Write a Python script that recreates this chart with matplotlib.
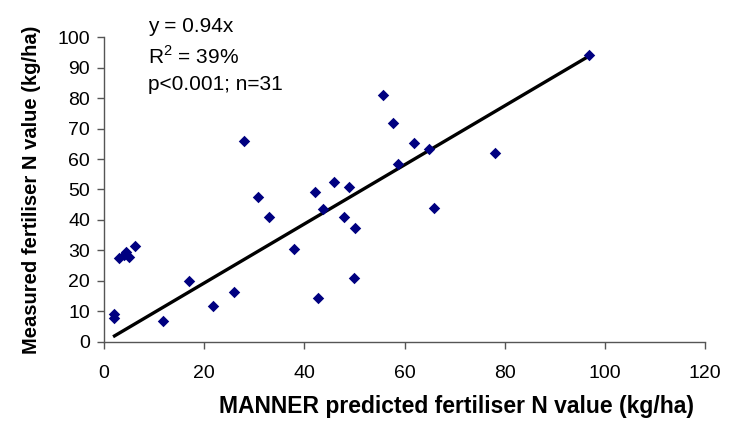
import numpy as np
import matplotlib.pyplot as plt

plt.rcParams['font.family'] = ['Liberation Sans', 'DejaVu Sans']
plt.rcParams['mathtext.fontset'] = 'custom'
plt.rcParams['mathtext.rm'] = 'Liberation Sans'

# predicted (x) vs measured (y) fertiliser N value, kg/ha
predicted = [2.0, 2.0, 3.0, 4.0, 4.3, 5.0, 6.2, 11.8, 17.0, 21.8,
             26.0, 28.0, 30.7, 32.9, 37.9, 42.1, 42.8, 43.7, 45.9, 47.9,
             48.9, 50.1, 49.9, 55.7, 57.8, 58.7, 61.8, 64.9, 65.9, 78.0,
             96.8]
measured = [9.2, 7.8, 27.4, 28.5, 29.4, 27.8, 31.5, 6.7, 19.8, 11.8,
            16.4, 65.9, 47.6, 40.8, 30.5, 49.1, 14.3, 43.5, 52.5, 40.9,
            50.7, 37.3, 20.8, 81.1, 72.0, 58.3, 65.3, 63.2, 44.0, 62.0,
            94.1]

# trend line end points as drawn in the chart
fit_x = [2.1, 96.4]
fit_y = [1.9, 93.4]

x_ticks = [0, 20, 40, 60, 80, 100, 120]
y_ticks = [0, 10, 20, 30, 40, 50, 60, 70, 80, 90, 100]

fig = plt.figure(figsize=(7.36, 4.24), dpi=100)
ax = fig.add_axes([0.1413, 0.1941, 0.8166, 0.718])

ax.scatter(predicted, measured, marker='D', s=34, color='#000080',
           linewidths=0, zorder=3)
ax.plot(fit_x, fit_y, color='black', lw=2.4, zorder=2)

ax.set_xlim(0, 120)
ax.set_ylim(0, 100)
ax.set_xticks(x_ticks)
ax.set_yticks(y_ticks)
ax.tick_params(labelsize=14, direction='out', length=5, width=1,
               color='#555555')
ax.tick_params(axis='x', pad=12)
ax.tick_params(axis='y', pad=5)

for side in ['top', 'right']:
    ax.spines[side].set_visible(False)
for side in ['left', 'bottom']:
    ax.spines[side].set_color('#555555')
    ax.spines[side].set_linewidth(1)

ax.set_xlabel('MANNER predicted fertiliser N value (kg/ha)',
              fontsize=16.5, fontweight='bold', va='center')
ax.xaxis.set_label_coords(0.587, -0.212)
ax.set_ylabel('Measured fertiliser N value (kg/ha)',
              fontsize=14.5, fontweight='bold', va='center')
ax.yaxis.set_label_coords(-0.12, 0.5)

# regression stats
fig.text(148 / 736, 1 - 27 / 424, 'y = 0.94x', fontsize=15, va='center')
fig.text(148 / 736, 1 - 56 / 424, 'R$^2$ = 39%', fontsize=15, va='center')
fig.text(148 / 736, 1 - 85 / 424, 'p<0.001; n=31', fontsize=15, va='center')

fig.savefig('out.png', dpi=100)
